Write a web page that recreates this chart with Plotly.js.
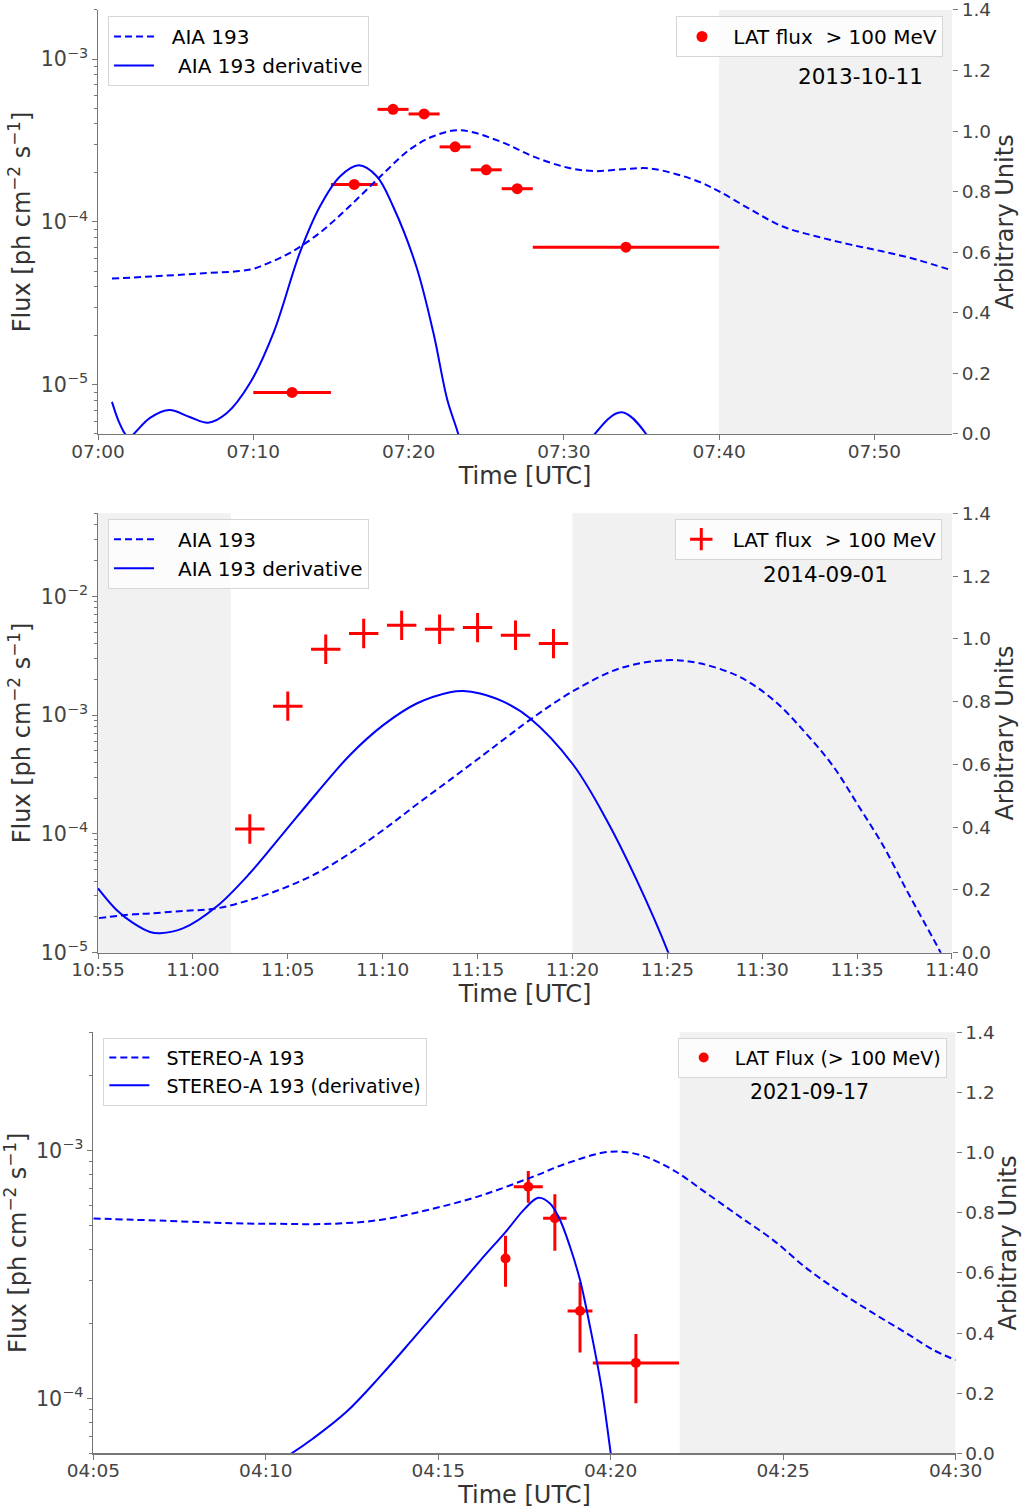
<!DOCTYPE html>
<html>
<head>
<meta charset="utf-8">
<script src="https://cdn.plot.ly/plotly-3.0.1.min.js"></script>
<style>html,body{margin:0;padding:0;background:#fff;}#chart{width:1022px;height:1509px;}</style>
</head>
<body>
<div id="chart"></div>
<script>
// ---------- Panel 1 : 2013-10-11 (times in minutes after 07:00 UTC) ----------
const p1Date = '2013-10-11', p1Start = '07:00', p1End = '07:55';
const p1TickLabels = ['07:00', '07:10', '07:20', '07:30', '07:40', '07:50'];
const p1AiaMin = [0.9, 3.4, 6.6, 9.8, 11.0, 12.4, 14.3, 16.2, 18.2, 20.1, 21.6, 23.3, 25.9, 28.0, 30.2, 31.9, 33.8, 35.5, 37.3, 38.8, 40.0, 42.0, 44.1, 46.3, 48.4, 50.5, 52.7, 55.0];
const p1AiaVal = [0.513, 0.520, 0.530, 0.543, 0.565, 0.599, 0.665, 0.752, 0.851, 0.940, 0.983, 1.003, 0.966, 0.917, 0.880, 0.868, 0.874, 0.877, 0.857, 0.831, 0.801, 0.742, 0.685, 0.652, 0.626, 0.603, 0.576, 0.540];
const p1DerMin = [0.9, 1.3, 1.75, 2.0, 2.3, 3.35, 4.6, 5.9, 7.1, 8.3, 9.8, 11.3, 13.0, 14.3, 15.6, 16.8, 17.95, 19.0, 20.5, 21.6, 22.5, 23.2, 24.5, 27.0, 30.0, 32.0, 33.7, 35.3, 37.0, 40.0, 45.0, 55.0];
const p1DerVal = [0.106, 0.046, 0.0, -0.012, 0.0, 0.053, 0.079, 0.056, 0.037, 0.069, 0.169, 0.334, 0.599, 0.752, 0.851, 0.887, 0.851, 0.752, 0.553, 0.334, 0.112, 0.0, -0.25, -0.4, -0.2, 0.0, 0.072, 0.0, -0.2, -0.5, -0.8, -1.0];
const p1LatMin = [12.5, 16.5, 19.0, 21.0, 23.0, 25.0, 27.0, 34.0];
const p1LatErrMin = [2.5, 1.5, 1.0, 1.0, 1.0, 1.0, 1.0, 6.0];
const p1LatFlux = [9.0e-6, 1.70e-4, 4.91e-4, 4.6e-4, 2.89e-4, 2.09e-4, 1.6e-4, 7.0e-5];
const p1Shade = ['07:40', '07:55'];

// ---------- Panel 2 : 2014-09-01 (times in minutes after 10:55 UTC) ----------
const p2Date = '2014-09-01', p2Start = '10:55', p2End = '11:40';
const p2TickLabels = ['10:55', '11:00', '11:05', '11:10', '11:15', '11:20', '11:25', '11:30', '11:35', '11:40'];
const p2AiaMin = [0.05, 1.86, 2.74, 4.5, 6.25, 8.0, 9.76, 11.52, 13.28, 15.03, 16.79, 18.6, 20.3, 21.5, 22.76, 25.05, 27.5, 29.96, 31.7, 33.8, 35.6, 37.3, 38.75, 40.1, 41.4, 42.6, 43.66, 44.4, 45.0];
const p2AiaVal = [0.110, 0.122, 0.125, 0.133, 0.141, 0.168, 0.205, 0.253, 0.317, 0.391, 0.472, 0.553, 0.630, 0.685, 0.742, 0.834, 0.906, 0.932, 0.922, 0.879, 0.805, 0.699, 0.593, 0.465, 0.338, 0.200, 0.083, 0.0, -0.08];
const p2DerMin = [0.0, 0.98, 1.86, 2.74, 3.27, 4.5, 6.25, 8.0, 9.76, 11.52, 13.28, 15.03, 16.79, 18.55, 19.25, 20.13, 21.36, 22.76, 25.05, 26.8, 28.38, 30.05, 31.5, 33.0];
const p2DerVal = [0.205, 0.136, 0.094, 0.066, 0.062, 0.078, 0.147, 0.253, 0.380, 0.508, 0.630, 0.725, 0.794, 0.830, 0.834, 0.826, 0.800, 0.747, 0.598, 0.423, 0.232, 0.0, -0.25, -0.55];
const p2LatMin = [8, 10, 12, 14, 16, 18, 20, 22, 24];
const p2LatFlux = [1.10e-4, 1.19e-3, 3.59e-3, 4.87e-3, 5.70e-3, 5.28e-3, 5.46e-3, 4.7e-3, 4.0e-3];
const p2ShadeA = ['10:55', '11:02'];
const p2ShadeB = ['11:20', '11:40'];

// ---------- Panel 3 : 2021-09-17 (times in minutes after 04:05 UTC) ----------
const p3Date = '2021-09-17', p3Start = '04:05', p3End = '04:30';
const p3TickLabels = ['04:05', '04:10', '04:15', '04:20', '04:25', '04:30'];
const p3StaMin = [0.0, 2.13, 4.06, 5.41, 6.86, 8.31, 9.76, 11.21, 12.75, 13.72, 14.98, 15.85, 16.81, 17.78, 18.74, 19.71, 20.68, 21.64, 22.61, 23.58, 24.35, 25.0];
const p3StaVal = [0.781, 0.773, 0.765, 0.763, 0.763, 0.776, 0.811, 0.856, 0.920, 0.964, 1.003, 0.992, 0.942, 0.865, 0.787, 0.709, 0.615, 0.537, 0.466, 0.399, 0.344, 0.310];
const p3DerMin = [0.0, 3.0, 5.0, 5.75, 6.38, 7.34, 8.31, 9.28, 10.24, 11.21, 11.98, 12.5, 12.9, 13.24, 13.53, 13.82, 14.11, 14.4, 14.73, 15.0, 15.3];
const p3DerVal = [-0.55, -0.22, -0.05, 0.0, 0.050, 0.138, 0.255, 0.382, 0.510, 0.640, 0.740, 0.812, 0.850, 0.831, 0.776, 0.687, 0.576, 0.421, 0.221, 0.0, -0.25];
const p3LatMin = [11.95, 12.61, 13.38, 14.11, 15.73];
const p3LatErrMin = [0.1, 0.42, 0.34, 0.36, 1.25];
const p3LatFlux = [3.67e-4, 7.14e-4, 5.33e-4, 2.25e-4, 1.39e-4];
const p3LatHi = [4.53e-4, 8.26e-4, 6.66e-4, 2.94e-4, 1.82e-4];
const p3LatLo = [2.82e-4, 6.16e-4, 3.94e-4, 1.53e-4, 9.55e-5];
const p3Shade = ['04:22', '04:30'];

// ---------- helpers ----------
function minsFrom(start, hhmm) {
  const [h0, m0] = start.split(':').map(Number);
  const [h, m] = hhmm.split(':').map(Number);
  return (h * 60 + m) - (h0 * 60 + m0);
}
const FONT = 'DejaVu Sans';
const BLUE = '#0000ff', RED = '#ff0000';
const TICK = '#444', LINE = '#777';
const NB = '\u00a0';

const traces = [];
// Panel 1
traces.push({x: p1LatMin, y: p1LatFlux, xaxis: 'x', yaxis: 'y', type: 'scatter', mode: 'markers',
  name: NB + 'LAT flux  > 100 MeV', legend: 'legend2', marker: {color: RED, size: 11},
  error_x: {type: 'data', array: p1LatErrMin, color: RED, thickness: 3, width: 0}});
traces.push({x: p1AiaMin, y: p1AiaVal, xaxis: 'x', yaxis: 'y2', type: 'scatter', mode: 'lines',
  name: NB + NB + 'AIA 193', legend: 'legend', line: {color: BLUE, width: 2, dash: '7px,4px', shape: 'spline'}});
traces.push({x: p1DerMin, y: p1DerVal, xaxis: 'x', yaxis: 'y2', type: 'scatter', mode: 'lines',
  name: NB + NB + NB + 'AIA 193 derivative', legend: 'legend', line: {color: BLUE, width: 2, shape: 'spline'}});
// Panel 2
traces.push({x: p2LatMin, y: p2LatFlux, xaxis: 'x2', yaxis: 'y3', type: 'scatter', mode: 'markers',
  name: NB + 'LAT flux  > 100 MeV', legend: 'legend4', marker: {symbol: 'cross-thin', size: 21, color: RED, line: {color: RED, width: 3}}});
traces.push({x: p2AiaMin, y: p2AiaVal, xaxis: 'x2', yaxis: 'y4', type: 'scatter', mode: 'lines',
  name: NB + NB + NB + 'AIA 193', legend: 'legend3', line: {color: BLUE, width: 2, dash: '7px,4px', shape: 'spline'}});
traces.push({x: p2DerMin, y: p2DerVal, xaxis: 'x2', yaxis: 'y4', type: 'scatter', mode: 'lines',
  name: NB + NB + NB + 'AIA 193 derivative', legend: 'legend3', line: {color: BLUE, width: 2, shape: 'spline'}});
// Panel 3
traces.push({x: p3LatMin, y: p3LatFlux, xaxis: 'x3', yaxis: 'y5', type: 'scatter', mode: 'markers',
  name: NB + 'LAT Flux (> 100 MeV)', legend: 'legend6', marker: {color: RED, size: 10},
  error_x: {type: 'data', array: p3LatErrMin, color: RED, thickness: 3, width: 0},
  error_y: {type: 'data', symmetric: false, array: p3LatHi.map((v, i) => v - p3LatFlux[i]),
            arrayminus: p3LatLo.map((v, i) => p3LatFlux[i] - v), color: RED, thickness: 3, width: 0}});
traces.push({x: p3StaMin, y: p3StaVal, xaxis: 'x3', yaxis: 'y6', type: 'scatter', mode: 'lines',
  name: NB + NB + 'STEREO-A 193', legend: 'legend5', line: {color: BLUE, width: 2, dash: '7px,4px', shape: 'spline'}});
traces.push({x: p3DerMin, y: p3DerVal, xaxis: 'x3', yaxis: 'y6', type: 'scatter', mode: 'lines',
  name: NB + NB + 'STEREO-A 193 (derivative)', legend: 'legend5', line: {color: BLUE, width: 2, shape: 'spline'}});

function xAxis(dom, anchor, start, end, labels) {
  return {domain: dom, anchor: anchor, type: 'linear', range: [0, minsFrom(start, end)],
    tickmode: 'array', tickvals: labels.map(l => minsFrom(start, l)), ticktext: labels,
    showgrid: false, zeroline: false, showline: true, linecolor: LINE, linewidth: 1.5,
    ticks: 'outside', ticklen: 5, tickcolor: LINE, tickfont: {family: FONT, size: 18.5, color: TICK},
    ticklabelstandoff: -5, ticklabeloverflow: 'allow',
    title: {text: 'Time [UTC]', font: {family: FONT, size: 24, color: '#333'}, standoff: 0}};
}
function yLog(dom, anchor, lo, hi) {
  return {domain: dom, anchor: anchor, type: 'log', range: [Math.log10(lo), Math.log10(hi)], dtick: 1, exponentformat: 'power',
    showgrid: false, zeroline: false, showline: true, linecolor: LINE, linewidth: 1.5,
    ticks: 'outside', ticklen: 5, tickcolor: LINE, tickfont: {family: FONT, size: 16.5, color: TICK},
    ticklabeloverflow: 'allow',
    minor: {ticks: 'outside', ticklen: 3, tickcolor: LINE, showgrid: false},
    title: {text: 'Flux [ph cm<sup>\u22122</sup> s<sup>\u22121</sup>]', font: {family: FONT, size: 24, color: '#333'}, standoff: 3}};
}
const rightTicks = [0, 0.2, 0.4, 0.6, 0.8, 1.0, 1.2, 1.4];
function yRight(overlay, anchor) {
  return {overlaying: overlay, anchor: anchor, side: 'right', range: [0, 1.4],
    tickmode: 'array', tickvals: rightTicks, ticktext: rightTicks.map(v => v.toFixed(1)),
    showgrid: false, zeroline: false, showline: false,
    ticks: 'outside', ticklen: 5, tickcolor: LINE, tickfont: {family: FONT, size: 18.5, color: TICK},
    ticklabeloverflow: 'allow',
    title: {text: 'Arbitrary Units', font: {family: FONT, size: 24, color: '#333'}, standoff: 6}};
}
function shade(xref, yref, start, span) {
  return {type: 'rect', xref: xref, yref: yref, x0: minsFrom(start, span[0]), x1: minsFrom(start, span[1]), y0: 0, y1: 1,
    fillcolor: '#f1f1f1', line: {width: 0}, layer: 'below'};
}
function leg(x, y, xanchor, size) {
  return {x: x, y: y, xanchor: xanchor, yanchor: 'top', bgcolor: 'rgba(255,255,255,0.8)', bordercolor: '#d6d6d6', borderwidth: 1,
    font: {family: FONT, size: size, color: '#000'}, itemwidth: 40, tracegroupgap: 0};
}
function dateNote(text, x, y, size) {
  return {text: text, xref: 'paper', yref: 'paper', x: x, y: y, xanchor: 'center', yanchor: 'middle', showarrow: false,
    font: {family: FONT, size: size, color: '#000'}};
}

const X1 = [0.0959, 0.9315], X3 = [0.0913, 0.9351];
const D1 = [0.7124, 0.9934], D2 = [0.3687, 0.6598], D3 = [0.0369, 0.3159];

const layout = {
  width: 1022, height: 1509, margin: {l: 0, r: 0, t: 0, b: 0},
  paper_bgcolor: '#fff', plot_bgcolor: 'rgba(0,0,0,0)', font: {family: FONT},
  showlegend: true,
  xaxis: xAxis(X1, 'y', p1Start, p1End, p1TickLabels),
  xaxis2: xAxis(X1, 'y3', p2Start, p2End, p2TickLabels),
  xaxis3: xAxis(X3, 'y5', p3Start, p3End, p3TickLabels),
  yaxis: yLog(D1, 'x', 5e-6, 2e-3),
  yaxis2: yRight('y', 'x'),
  yaxis3: yLog(D2, 'x2', 1e-5, 5e-2),
  yaxis4: yRight('y3', 'x2'),
  yaxis5: yLog(D3, 'x3', 6e-5, 3e-3),
  yaxis6: yRight('y5', 'x3'),
  shapes: [
    shade('x', 'y domain', p1Start, p1Shade),
    shade('x2', 'y3 domain', p2Start, p2ShadeA),
    shade('x2', 'y3 domain', p2Start, p2ShadeB),
    shade('x3', 'y5 domain', p3Start, p3Shade)
  ],
  legend: leg(0.1057, 0.9894, 'left', 20),
  legend2: leg(0.9227, 0.9894, 'right', 20),
  legend3: leg(0.1057, 0.6563, 'left', 20),
  legend4: leg(0.9220, 0.6563, 'right', 20),
  legend5: leg(0.1011, 0.3123, 'left', 19),
  legend6: leg(0.9263, 0.3123, 'right', 19),
  annotations: [
    dateNote(p1Date, 0.8415, 0.949, 21.5),
    dateNote(p2Date, 0.808, 0.619, 21.5),
    dateNote(p3Date, 0.7916, 0.2765, 20.5)
  ]
};

Plotly.newPlot('chart', traces, layout, {displayModeBar: false, staticPlot: true});
</script>
</body>
</html>
